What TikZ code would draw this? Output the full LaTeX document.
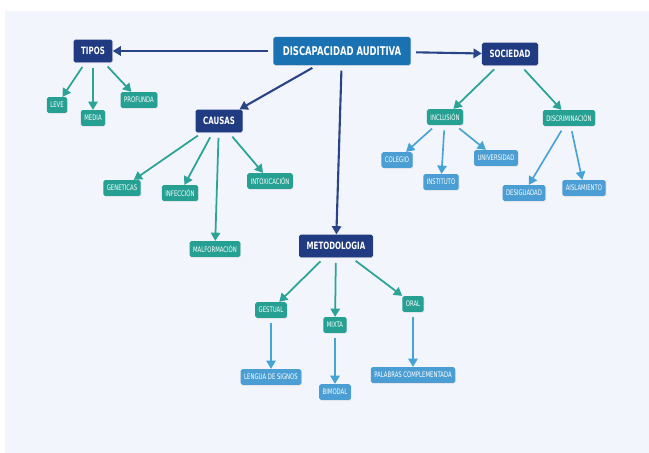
\documentclass[tikz,border=0pt]{standalone}
\usepackage{fontspec}
\setmainfont{DejaVu Sans}[FakeStretch=0.7]
\usepackage{xcolor}
\usetikzlibrary{arrows.meta,shadows}

\definecolor{fondo}{HTML}{F2F5FC}
\definecolor{azul}{HTML}{1B72B2}
\definecolor{marino}{HTML}{213B83}
\definecolor{verde}{HTML}{26A093}
\definecolor{celeste}{HTML}{4A9ED3}
\definecolor{flmarino}{HTML}{2A4587}
\definecolor{flverde}{HTML}{2BA396}
\definecolor{flceleste}{HTML}{45A3D6}

\begin{document}
\begin{tikzpicture}[x=0.03cm,y=-0.03cm,>={Triangle[width=8pt,length=7pt]},
	caja/.style={rounded corners=1.5pt, text=white, inner sep=0pt,
		drop shadow={opacity=0.2,shadow xshift=0.5pt,shadow yshift=-0.7pt}},
	principal/.style={caja, fill=azul, minimum height=24pt, inner xsep=8pt,
		font=\bfseries\fontsize{10.3}{12}\selectfont},
	tema/.style={caja, fill=marino, minimum height=19.5pt, inner xsep=6.5pt,
		font=\bfseries\fontsize{8.6}{10}\selectfont},
	sub/.style={caja, fill=verde, minimum height=13.5pt, inner xsep=3pt,
		font=\fontsize{6.5}{7}\selectfont},
	hoja/.style={sub, fill=celeste},
	fl/.style={->, shorten <=4.5pt},
	flm/.style={fl, draw=flmarino, line width=1.8pt},
	flv/.style={fl, draw=flverde, line width=1.5pt},
	flc/.style={fl, draw=flceleste, line width=1.4pt}]
	
	\useasboundingbox (0,0) rectangle (649,453);
	\fill[fondo] (5,11) rectangle (649,453);
	
	% Concepto central y temas
	\node[principal] (disc) at (342,51) {DISCAPACIDAD AUDITIVA};
	\node[tema] (tipos) at (93,51) {TIPOS};
	\node[tema] (soc) at (510,54) {SOCIEDAD};
	\node[tema] (causas) at (219,121) {CAUSAS};
	\node[tema] (metod) at (336,246) {METODOLOGIA};
	
	% Tipos
	\node[sub] (leve) at (57,105) {LEVE};
	\node[sub] (media) at (93,118) {MEDIA};
	\node[sub] (prof) at (139,100) {PROFUNDA};
	
	% Causas
	\node[sub] (gen) at (122,188) {GENETICAS};
	\node[sub] (inf) at (180,193) {INFECCIÓN};
	\node[sub] (intox) at (270,181) {INTOXICACIÓN};
	\node[sub] (malf) at (215,249) {MALFORMACIÓN};
	
	% Sociedad
	\node[sub] (incl) at (445,117) {INCLUSIÓN};
	\node[sub] (discr) at (569,118) {DISCRIMINACIÓN};
	\node[hoja] (col) at (397,160) {COLEGIO};
	\node[hoja] (inst) at (441,182) {INSTITUTO};
	\node[hoja] (univ) at (496,158) {UNIVERSIDAD};
	\node[hoja] (desig) at (524,193) {DESIGUADAD};
	\node[hoja] (aisl) at (584,188) {AISLAMIENTO};
	
	% Metodologia
	\node[sub] (gest) at (271,310) {GESTUAL};
	\node[sub] (mixta) at (335,325) {MIXTA};
	\node[sub] (oral) at (413,304) {ORAL};
	\node[hoja] (lengua) at (271,377) {LENGUA DE SIGNOS};
	\node[hoja] (bimodal) at (335,392) {BIMODAL};
	\node[hoja] (palabras) at (413,375) {PALABRAS COMPLEMENTADA};
	
	% Flechas
	\foreach \t in {tipos,soc,causas,metod}
		\draw[flm] (disc) -- (\t);
	\foreach \t in {leve,media,prof}
		\draw[flv] (tipos) -- (\t);
	\foreach \t in {gen,inf,intox,malf}
		\draw[flv] (causas) -- (\t);
	\foreach \t in {incl,discr}
		\draw[flv] (soc) -- (\t);
	\foreach \t in {gest,mixta,oral}
		\draw[flv] (metod) -- (\t);
	\foreach \a/\b in {incl/col,incl/inst,incl/univ,discr/desig,discr/aisl,
		gest/lengua,mixta/bimodal,oral/palabras}
		\draw[flc] (\a) -- (\b);
	
\end{tikzpicture}
\end{document}
